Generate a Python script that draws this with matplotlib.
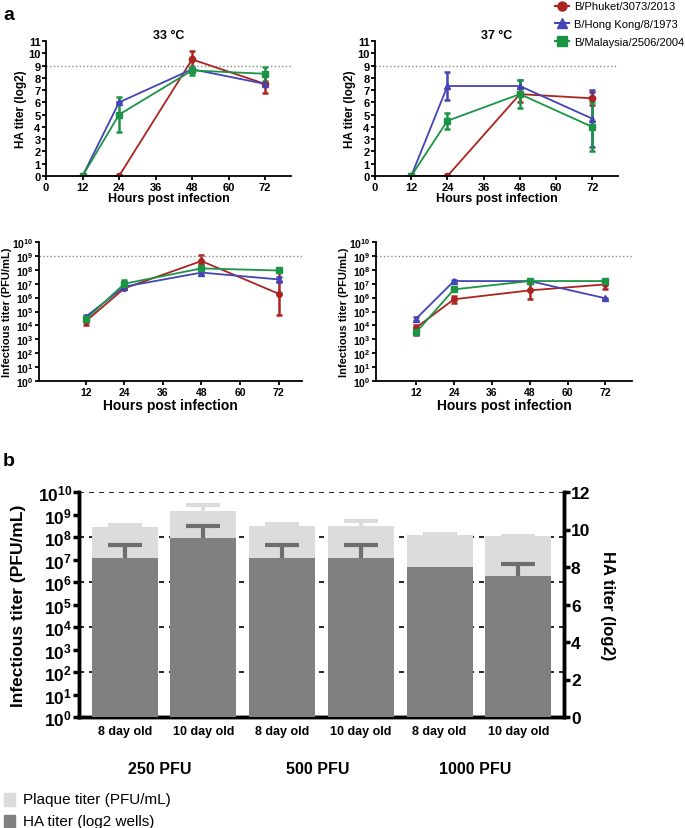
import matplotlib
matplotlib.use('Agg')
import matplotlib.pyplot as plt
from matplotlib.lines import Line2D
import matplotlib.transforms as mtrans
import numpy as np

plt.rcParams['font.family'] = ['Liberation Sans', 'DejaVu Sans']
plt.rcParams['mathtext.fontset'] = 'custom'
plt.rcParams['mathtext.rm'] = 'Liberation Sans'
plt.rcParams['mathtext.bf'] = 'Liberation Sans:bold'

# ---- data ----
hours = [12, 24, 48, 72]
strains = ['B/Phuket/3073/2013', 'B/Hong Kong/8/1973', 'B/Malaysia/2506/2004']
colors = ['#ab2420', '#4444b4', '#1c9446']
markers = ['o', '^', 's']

# HA titer (log2), 33 C
ha33 = [[0, 0, 9.5, 7.5], [0, 6.0, 8.7, 7.5], [0, 5.0, 8.6, 8.33]]
ha33_err = [[0, 0, 0.7, 0.72], [0, 0, 0.1, 0.1], [0, 1.4, 0.4, 0.55]]
# HA titer (log2), 37 C
ha37 = [[0, 0, 6.67, 6.33], [0, 7.33, 7.33, 4.67], [0, 4.5, 6.67, 4.0]]
ha37_err = [[0, 0, 0.6, 0.55], [0, 1.15, 0.5, 2.3], [0, 0.65, 1.15, 2.0]]

# infectious titer, log10 values, 33 C
inf33 = [[4.3, 6.67, 8.63, 6.28], [4.63, 6.79, 7.8, 7.31], [4.44, 7.0, 8.1, 7.95]]
inf33_lo = [[0.3, 0.05, 0.2, 1.56], [0.15, 0.05, 0.2, 0.2], [0.1, 0.1, 0.05, 0.05]]
inf33_hi = [[0.3, 0.05, 0.4, 1.6], [0.15, 0.05, 0.2, 0.2], [0.1, 0.25, 0.1, 0.05]]
# infectious titer, log10 values, 37 C
inf37 = [[3.84, 5.88, 6.52, 6.95], [4.48, 7.19, 7.19, 5.95], [3.5, 6.59, 7.19, 7.19]]
inf37_lo = [[0.5, 0.25, 0.6, 0.35], [0.15, 0.05, 0.05, 0.02], [0.15, 0.15, 0.05, 0.05]]
inf37_hi = [[0.2, 0.22, 0.55, 0.4], [0.15, 0.05, 0.05, 0.02], [0.15, 0.2, 0.05, 0.05]]

# panel b
egg_labels = ['8 day old', '10 day old', '8 day old', '10 day old', '8 day old', '10 day old']
dose_labels = ['250 PFU', '500 PFU', '1000 PFU']
plaque = [2.8e8, 1.45e9, 3.1e8, 3.1e8, 1.25e8, 1.1e8]
plaque_err = [0.5e8, 1.2e9, 0.7e8, 1.9e8, 0.05e8, 0.05e8]
ha_bar = [8.5, 9.55, 8.5, 8.5, 8.0, 7.5]
ha_bar_err = [0.67, 0.65, 0.67, 0.67, 0, 0.67]

W, H = 685, 829
fig = plt.figure(figsize=(W / 100, H / 100), dpi=100)


def add_ax(l, t, r, b):
    return fig.add_axes([l / W, 1 - b / H, (r - l) / W, (b - t) / H])


def style(ax, lw=1.3, size=8):
    for s in ['top', 'right']:
        ax.spines[s].set_visible(False)
    for s in ['left', 'bottom']:
        ax.spines[s].set_linewidth(lw)
    ax.tick_params(width=lw, length=3, labelsize=size, pad=1)
    for lab in ax.get_xticklabels() + ax.get_yticklabels():
        lab.set_fontweight('bold')


def ha_panel(ax, vals, errs, title):
    for i in range(3):
        ax.errorbar(hours, vals[i], yerr=errs[i], color=colors[i], marker=markers[i],
                    markersize=4.5, lw=1.3, elinewidth=1.8, capsize=2.5, capthick=1.8)
    ax.axhline(9, color='#888888', ls=':', lw=1)
    ax.set_xlim(0, 80.5)
    ax.set_ylim(0, 11)
    ax.set_xticks([0, 12, 24, 36, 48, 60, 72])
    ax.set_yticks(range(12))
    ax.set_xlabel('Hours post infection', fontsize=9, fontweight='bold', labelpad=0)
    ax.set_ylabel('HA titer (log2)', fontsize=8.5, fontweight='semibold', labelpad=1)
    ax.set_title(title, fontsize=9, fontweight='bold', pad=2)
    style(ax, size=8)


def inf_panel(ax, vals, lo, hi, xlim):
    for i in range(3):
        v = 10 ** np.array(vals[i])
        yl = v - 10 ** (np.array(vals[i]) - np.array(lo[i]))
        yh = 10 ** (np.array(vals[i]) + np.array(hi[i])) - v
        ax.errorbar(hours, v, yerr=[yl, yh], color=colors[i], marker=markers[i],
                    markersize=4, lw=1.3, elinewidth=1.8, capsize=2.5, capthick=1.8)
    ax.set_yscale('log')
    ax.axhline(1e9, color='#888888', ls=':', lw=1)
    ax.set_xlim(*xlim)
    ax.set_ylim(1, 1e10)
    ax.set_xticks([12, 24, 36, 48, 60, 72])
    ax.set_yticks([10.0 ** k for k in range(11)])
    ax.set_yticklabels([r'$\mathbf{10^{%d}}$' % k for k in range(11)])
    ax.minorticks_off()
    ax.set_xlabel('Hours post infection', fontsize=10, fontweight='bold', labelpad=1)
    ax.set_ylabel('Infectious titer (PFU/mL)', fontsize=8, fontweight='semibold', labelpad=0)
    style(ax, size=7.5)


ax1 = add_ax(46, 42, 291, 177)
ha_panel(ax1, ha33, ha33_err, '33 °C')
ax2 = add_ax(375, 42, 618, 177)
ha_panel(ax2, ha37, ha37_err, '37 °C')
ax3 = add_ax(39, 243, 302, 382)
inf_panel(ax3, inf33, inf33_lo, inf33_hi, (-2.6, 79.3))
ax4 = add_ax(376, 243, 632, 382)
inf_panel(ax4, inf37, inf37_lo, inf37_hi, (-0.7, 80.4))

handles = [Line2D([0], [0], color=colors[i], marker=markers[i], markersize=6.5, lw=1.5)
           for i in range(3)]
fig.legend(handles, strains, loc='upper left', bbox_to_anchor=(551 / W, 1 + 2 / H),
           frameon=False, fontsize=8, handlelength=1.2, handletextpad=0.5,
           labelspacing=0.7, borderaxespad=0)

fig.text(3 / W, 1 - 16 / H, 'a', fontsize=14, fontweight='bold', va='center')
fig.text(3 / W, 1 - 462 / H, 'b', fontsize=14, fontweight='bold', va='center')

# ---- panel b ----
axb = add_ax(79, 493, 564, 718)
x = np.arange(6)
bw = 0.84
axb.bar(x, plaque, width=bw, color='#dcdcdc', zorder=2)
ptop = np.array(plaque) + np.array(plaque_err)
axb.vlines(x, plaque, ptop, color='#dcdcdc', lw=3, zorder=2)
axb.plot(x, ptop, ls='none', marker='_', ms=24, mew=3, color='#dcdcdc', zorder=2)
axb.set_yscale('log')
axb.set_ylim(1, 1e10)
axb.set_xlim(-0.58, 5.58)
axb.set_yticks([10.0 ** k for k in range(11)])
axb.set_yticklabels([r'$\mathbf{10^{%d}}$' % k for k in range(11)])
axb.minorticks_off()
for k in [2, 4, 6, 8, 10]:
    axb.axhline(10.0 ** k, color='black', ls=(0, (3, 3)), lw=1.2, zorder=1)
axb.set_ylabel('Infectious titer (PFU/mL)', fontsize=12.5, fontweight='bold', labelpad=8)
axb.set_xticks(x)
axb.set_xticklabels(egg_labels, fontsize=9, fontweight='bold')

axr = axb.twinx()
axr.bar(x, ha_bar, width=bw, color='#808080', zorder=3)
hx = [xi for xi, e in zip(x, ha_bar_err) if e > 0]
hb = [v for v, e in zip(ha_bar, ha_bar_err) if e > 0]
ht = [v + e for v, e in zip(ha_bar, ha_bar_err) if e > 0]
axr.vlines(hx, hb, ht, color='#6e6e6e', lw=3, zorder=3)
axr.plot(hx, ht, ls='none', marker='_', ms=24, mew=3, color='#6e6e6e', zorder=3)
axr.set_ylim(0, 12)
axr.set_yticks(range(0, 13, 2))
axr.set_ylabel('HA titer (log2)', fontsize=12, fontweight='bold', rotation=270, labelpad=18)
axb.set_zorder(0)
axr.set_zorder(1)
axr.patch.set_visible(False)

for a in [axb, axr]:
    a.spines['top'].set_visible(False)
    for s in ['left', 'right', 'bottom']:
        a.spines[s].set_linewidth(2.5)
    a.tick_params(axis='y', width=2.5, length=4, labelsize=12.5, pad=1)
    a.tick_params(axis='x', length=0, pad=6)
for lab in axr.get_yticklabels():
    lab.set_fontweight('bold')

trans = mtrans.blended_transform_factory(axb.transData, fig.transFigure)
for i, d in enumerate(dose_labels):
    fig.text(2 * i + 0.45, 1 - 770 / H, d, fontsize=11.5, fontweight='bold',
             ha='center', va='center', transform=trans)

fig.patches.append(plt.Rectangle((4 / W, 1 - 807 / H), 11 / W, 13 / H, color='#dcdcdc',
                                 transform=fig.transFigure))
fig.patches.append(plt.Rectangle((4 / W, 1 - 829 / H), 11 / W, 13 / H, color='#808080',
                                 transform=fig.transFigure))
fig.text(23 / W, 1 - 800 / H, 'Plaque titer (PFU/mL)', fontsize=11, va='center')
fig.text(23 / W, 1 - 822 / H, 'HA titer (log2 wells)', fontsize=11, va='center')

fig.savefig('out.png', dpi=100)
